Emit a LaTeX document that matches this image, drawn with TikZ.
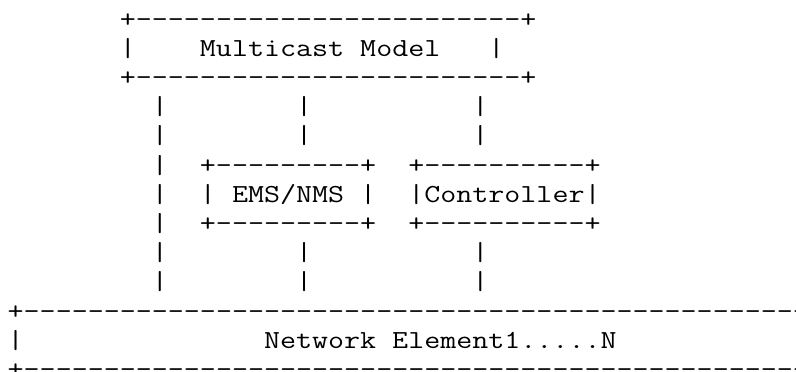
\documentclass[tikz,border=0pt]{standalone}
\usepackage{fontspec}
\setmonofont[FakeStretch=1.1967]{Latin Modern Mono}
\begin{document}
\begin{tikzpicture}[x=0.5pt,y=-0.5pt,
  asciirow/.style={anchor=base west,inner sep=0pt,outer sep=0pt,text=black,
    font=\ttfamily\fontsize{13pt}{14pt}\selectfont}]
\useasboundingbox (0,0) rectangle (796,371);
\clip (0,0) rectangle (796,371);
\node[asciirow] (r0)  at (7.7, 27.0) {~~~~~~~+------------------------+};
\node[asciirow] (r1)  at (7.7, 56.2) {~~~~~~~|~~~~Multicast~Model~~~|};
\node[asciirow] (r2)  at (7.7, 85.4) {~~~~~~~+------------------------+};
\node[asciirow] (r3)  at (7.7,114.6) {~~~~~~~~~|~~~~~~~~|~~~~~~~~~~|};
\node[asciirow] (r4)  at (7.7,143.8) {~~~~~~~~~|~~~~~~~~|~~~~~~~~~~|};
\node[asciirow] (r5)  at (7.7,173.0) {~~~~~~~~~|~~+---------+~~+----------+};
\node[asciirow] (r6)  at (7.7,202.2) {~~~~~~~~~|~~|~EMS/NMS~|~~|Controller|};
\node[asciirow] (r7)  at (7.7,231.4) {~~~~~~~~~|~~+---------+~~+----------+};
\node[asciirow] (r8)  at (7.7,260.6) {~~~~~~~~~|~~~~~~~~|~~~~~~~~~~|};
\node[asciirow] (r9)  at (7.7,289.8) {~~~~~~~~~|~~~~~~~~|~~~~~~~~~~|};
\node[asciirow] (r10) at (7.7,319.0) {+--------------------------------------------------};
\node[asciirow] (r11) at (7.7,348.2) {|~~~~~~~~~~~~~~~Network~Element1.....N};
\node[asciirow] (r12) at (7.7,377.4) {+--------------------------------------------------};
\end{tikzpicture}
\end{document}
